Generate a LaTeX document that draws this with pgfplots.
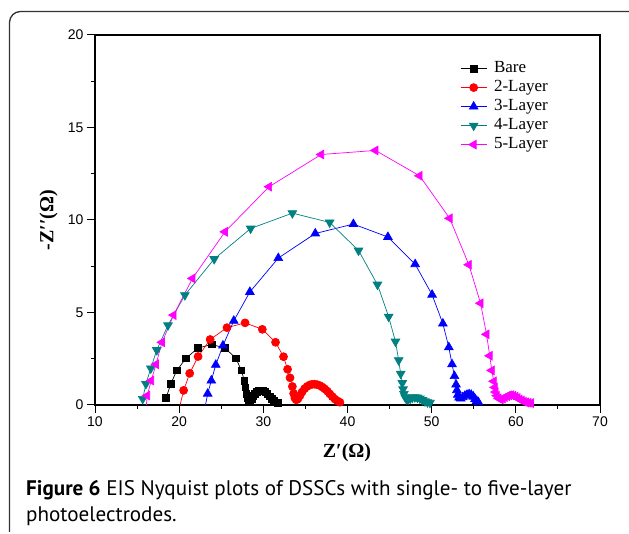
\documentclass[border=0pt]{standalone}
\usepackage{fontspec}
\setmainfont{Liberation Sans}
\newfontfamily\timesf{Liberation Serif}
\newfontfamily\capf{PT Sans}
\usepackage{pgfplots}
\pgfplotsset{compat=1.18}
\definecolor{tealc}{RGB}{0,128,128}
\definecolor{magc}{RGB}{255,0,255}
\definecolor{redc}{RGB}{255,0,0}
\definecolor{bluec}{RGB}{0,0,255}
\definecolor{framec}{RGB}{50,50,50}

\begin{document}
\begin{tikzpicture}
\useasboundingbox (0pt,0pt) rectangle (629pt,534pt);
% rounded frame, cut by the page on the right and bottom
\draw[framec, line width=1.3pt, rounded corners=11pt]
  (640pt,522.5pt) -- (9.5pt,522.5pt) -- (9.5pt,2pt);
\begin{axis}[
  at={(95pt,129pt)}, anchor=south west,
  scale only axis, width=505pt, height=370pt,
  xmin=10, xmax=70, ymin=0, ymax=20,
  xtick={10,20,...,70}, ytick={0,5,...,20},
  minor x tick num=1, minor y tick num=1,
  tick pos=left, tick align=outside,
  major tick length=8pt, minor tick length=4pt,
  axis line style={line width=1.2pt},
  every tick/.style={line width=1pt, black},
  tick label style={font=\fontsize{14}{14}\selectfont},
  /pgf/number format/assume math mode=true,
  xlabel={\timesf\bfseries Z′(Ω)},
  ylabel={\timesf\bfseries -Z′′(Ω)},
  label style={font=\fontsize{20}{20}\selectfont},
  xlabel style={at={(axis description cs:0.499,-0.13)}, anchor=center},
  ylabel style={at={(axis description cs:-0.092,0.5)}, anchor=center},
  legend cell align=left,
  legend style={draw=none, fill=none, at={(axis description cs:0.723,0.934)},
    anchor=north west, inner sep=0pt, row sep=1pt, column sep=6pt,
    font=\timesf\fontsize{17}{17}\selectfont,
    nodes={inner sep=1pt, text height=12pt, text depth=4pt}},
  legend image code/.code={%
    \draw[#1, mark=none] (0pt,0pt) -- (26pt,0pt);
    \draw[#1, only marks] plot coordinates {(13pt,0pt)};},
  every axis plot/.append style={line width=0.7pt},
]
\addplot[black, mark=square*, mark size=3.3pt] coordinates {
  (18.44,0.37) (19.00,1.14) (19.72,1.87) (20.82,2.53) (22.25,3.08)
  (23.87,3.27) (25.44,3.08) (26.73,2.53) (27.40,1.87) (27.73,1.32)
  (27.85,0.95) (28.00,0.60) (28.10,0.35) (28.25,0.20) (28.40,0.18)
  (28.60,0.30) (28.80,0.48) (29.00,0.60) (29.25,0.70) (29.50,0.76)
  (29.75,0.78) (30.00,0.76) (30.25,0.70) (30.50,0.60) (30.75,0.47)
  (31.00,0.33) (31.25,0.22) (31.50,0.15) (31.75,0.12)
};
\addlegendentry{Bare}
\addplot[redc, mark=*, mark size=4pt] coordinates {
  (19.95,-0.30) (20.53,0.79) (21.25,1.71) (22.25,2.62) (23.68,3.54)
  (25.68,4.18) (27.83,4.44) (29.88,4.09) (31.45,3.39) (32.40,2.61)
  (32.88,1.93) (33.17,1.47) (33.45,1.00) (33.60,0.62) (33.75,0.38)
  (33.90,0.28) (34.10,0.32) (34.35,0.50) (34.60,0.70) (34.90,0.88)
  (35.20,1.00) (35.50,1.08) (35.80,1.12) (36.10,1.12) (36.40,1.10)
  (36.70,1.05) (37.00,0.97) (37.30,0.87) (37.60,0.75) (37.90,0.60)
  (38.20,0.45) (38.50,0.32) (38.80,0.22) (39.10,0.15)
};
\addlegendentry{2-Layer}
\addplot[bluec, mark=triangle*, mark size=5pt] coordinates {
  (23.00,-0.30) (23.39,0.61) (23.82,1.32) (24.35,2.17) (25.20,3.21)
  (26.49,4.55) (28.40,6.11) (31.78,7.94) (36.17,9.27) (40.70,9.78)
  (44.80,9.08) (48.04,7.61) (50.05,5.96) (51.33,4.40) (52.04,3.12)
  (52.42,2.20) (52.71,1.56) (52.90,1.10) (53.00,0.80) (53.10,0.55)
  (53.25,0.40) (53.45,0.35) (53.70,0.42) (53.95,0.50) (54.20,0.55)
  (54.45,0.58) (54.70,0.55) (54.95,0.45) (55.15,0.32) (55.35,0.22)
  (55.55,0.15)
};
\addlegendentry{3-Layer}
\addplot[tealc, mark=triangle*, mark size=5pt,
  every mark/.append style={rotate=180}] coordinates {
  (15.67,0.33) (16.05,1.14) (16.63,1.98) (17.34,2.97) (18.67,4.31)
  (20.68,5.94) (24.16,7.89) (28.49,9.54) (33.45,10.37) (37.88,9.87)
  (41.31,8.35) (43.56,6.51) (44.89,4.77) (45.70,3.43) (46.08,2.42)
  (46.32,1.69) (46.51,1.19) (46.60,0.85) (46.70,0.60) (46.85,0.42)
  (47.00,0.32) (47.20,0.30) (47.45,0.35) (47.70,0.40) (48.00,0.42)
  (48.30,0.40) (48.60,0.35) (48.90,0.27) (49.20,0.20) (49.50,0.15)
  (49.80,0.12)
};
\addlegendentry{4-Layer}
\addplot[magc, mark=triangle*, mark size=5pt,
  every mark/.append style={rotate=90}] coordinates {
  (16.05,-0.30) (16.20,0.51) (16.68,1.32) (17.25,2.20) (17.96,3.39)
  (19.34,4.86) (21.58,6.84) (25.44,9.36) (30.69,11.80) (36.88,13.54)
  (43.32,13.76) (48.56,12.39) (52.14,10.09) (54.42,7.58) (55.81,5.50)
  (56.52,3.82) (56.90,2.66) (57.14,1.87) (57.38,1.28) (57.50,0.95)
  (57.60,0.70) (57.75,0.50) (57.95,0.36) (58.20,0.30) (58.45,0.35)
  (58.70,0.42) (58.95,0.48) (59.20,0.52) (59.45,0.53) (59.70,0.50)
  (59.95,0.45) (60.20,0.38) (60.45,0.30) (60.70,0.24) (60.95,0.18)
  (61.20,0.14) (61.50,0.12) (61.80,0.10)
};
\addlegendentry{5-Layer}
\end{axis}
\node[anchor=base west, inner sep=0pt, font=\capf\fontsize{21.1}{21.1}\selectfont]
  at (26pt,38pt) {\textbf{Figure 6} EIS Nyquist plots of DSSCs with single- to five-layer};
\node[anchor=base west, inner sep=0pt, font=\capf\fontsize{21.1}{21.1}\selectfont]
  at (26pt,12pt) {photoelectrodes.};
\end{tikzpicture}
\end{document}
